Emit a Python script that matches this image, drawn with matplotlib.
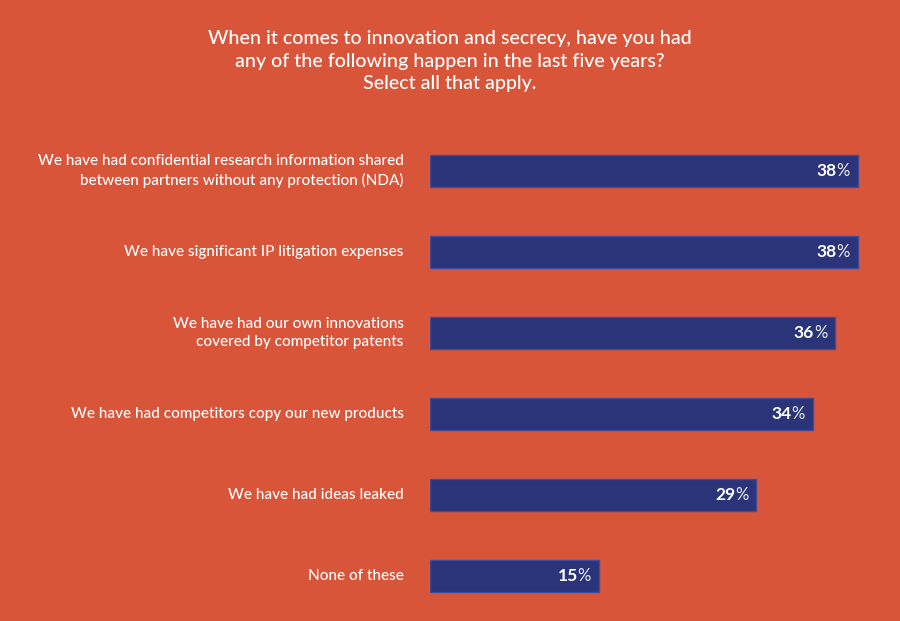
import matplotlib
matplotlib.use('Agg')
import matplotlib.pyplot as plt

# Данные из опроса
categories = [
    'We have had confidential research information shared\nbetween partners without any protection (NDA)',
    'We have significant IP litigation expenses',
    'We have had our own innovations\ncovered by competitor patents',
    'We have had competitors copy our new products',
    'We have had ideas leaked',
    'None of these',
]
values = [38, 38, 36, 34, 29, 15]
title = ('When it comes to innovation and secrecy, have you had\n'
         'any of the following happen in the last five years?\n'
         'Select all that apply.')

bg = '#D9553A'
bar_color = '#2B3479'
edge_color = '#3D4C9E'

plt.rcParams['font.family'] = ['Lato', 'DejaVu Sans']

W, H = 900, 621
fig = plt.figure(figsize=(W / 100, H / 100), dpi=100, facecolor=bg)
ax = fig.add_axes([430 / W, (H - 616.5) / H, 450 / W, 486 / H])
ax.set_facecolor(bg)

pos = list(range(len(values)))
ax.barh(pos, values, height=0.395, color=bar_color,
        edgecolor=edge_color, linewidth=1)
ax.set_xlim(0, 40)
ax.set_ylim(len(values) - 0.5, -0.5)
ax.axis('off')

for y, v, label in zip(pos, values, categories):
    ax.annotate(label, xy=(0, y), xytext=(-19, 0), textcoords='offset points',
                ha='right', va='center', color='white', fontsize=11,
                fontweight='medium', linespacing=1.35, multialignment='right')
    pct = ax.annotate('%', xy=(v, y), xytext=(-5.5, 0), textcoords='offset points',
                      ha='right', va='center', color='#EDEDF5', fontsize=12)
    ax.annotate(str(v), xy=(0, 0.5), xycoords=pct, ha='right', va='center',
                color='white', fontsize=12.5, fontweight='bold')

fig.text(0.5, 1 - 61 / H, title, ha='center', va='center', color='white',
         fontsize=14.1, fontweight='medium', linespacing=1.37)

fig.savefig('out.png', dpi=100, facecolor=bg)
plt.close(fig)
